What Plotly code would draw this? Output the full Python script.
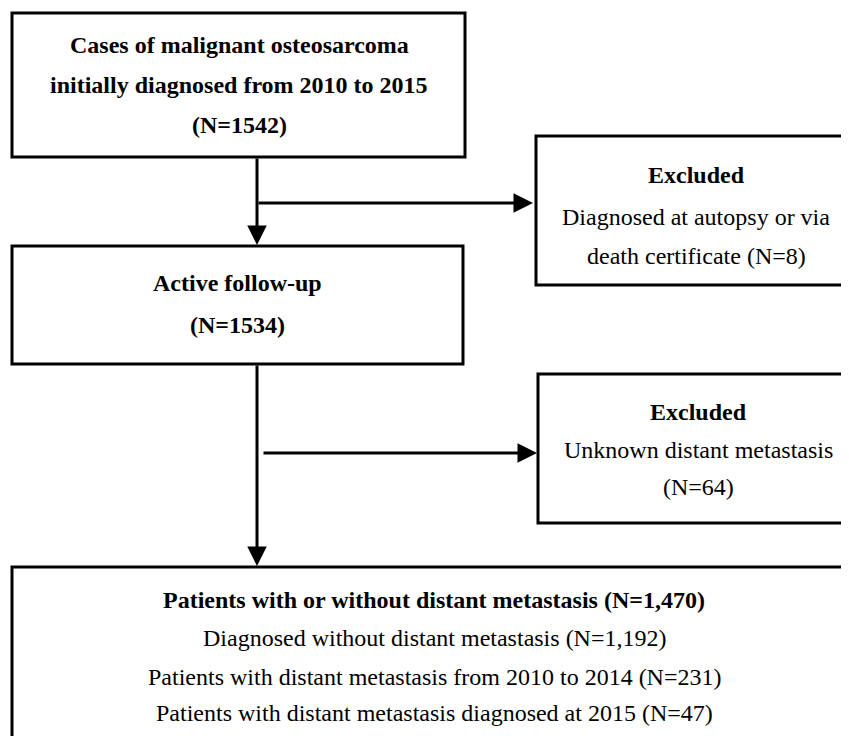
import plotly.graph_objects as go

# Box texts (one entry per line)
box1_lines = ["<b>Cases of malignant osteosarcoma</b>",
              "<b>initially diagnosed from 2010 to 2015</b>",
              "<b>(N=1542)</b>"]
box2_lines = ["<b>Excluded</b>",
              "Diagnosed at autopsy or via",
              "death certificate (N=8)"]
box3_lines = ["<b>Active follow-up</b>",
              "<b>(N=1534)</b>"]
box5_lines = ["<b>Excluded</b>",
              "Unknown distant metastasis",
              "(N=64)"]
box4_lines = ["<b>Patients with or without distant metastasis (N=1,470)</b>",
              "Diagnosed without distant metastasis (N=1,192)",
              "Patients with distant metastasis from 2010 to 2014 (N=231)",
              "Patients with distant metastasis diagnosed at 2015 (N=47)"]

FONT = "Liberation Serif, Times New Roman, Times, serif"

# Layout geometry (pixels, y downward)
boxes = [
    dict(x0=12, y0=13, x1=465, y1=157),
    dict(x0=536, y0=136, x1=870, y1=285),
    dict(x0=12, y0=246, x1=463, y1=364),
    dict(x0=538, y0=374, x1=870, y1=523),
    dict(x0=12, y0=567, x1=870, y1=780),
]
texts = [
    (box1_lines, 239, [45, 85, 125], 24),
    (box2_lines, 696, [175, 217, 256], 24),
    (box3_lines, 237, [283, 325], 24),
    (box5_lines, 698, [412, 450, 487], 24),
    (box4_lines, 434, [600, 638, 677, 713], 24),
]
arrows = [
    ((257, 157), (257, 245)),
    ((257, 364), (257, 566)),
    ((257, 203), (533, 203)),
    ((262, 453), (537, 453)),
]

fig = go.Figure()
fig.add_trace(go.Scatter(x=[8, 841], y=[8, 736], mode="markers",
                         marker=dict(opacity=0), hoverinfo="skip", showlegend=False))

for b in boxes:
    fig.add_shape(type="rect", xref="x", yref="y", line=dict(color="black", width=3),
                  fillcolor="rgba(0,0,0,0)", **b)

for lines, cx, ys, fs in texts:
    for t, y in zip(lines, ys):
        fig.add_annotation(x=cx, y=y, text=t, showarrow=False, xanchor="center", yanchor="middle",
                           font=dict(family=FONT, size=fs, color="black"))

for (tx, ty), (hx, hy) in arrows:
    fig.add_annotation(x=hx, y=hy, ax=tx, ay=ty, xref="x", yref="y", axref="x", ayref="y",
                       text="", showarrow=True, arrowhead=2, arrowsize=1.3, arrowwidth=3,
                       arrowcolor="black", standoff=0)

fig.update_xaxes(range=[8, 841], visible=False, fixedrange=True)
fig.update_yaxes(range=[736, 8], visible=False, fixedrange=True)
fig.update_layout(width=833, height=728, margin=dict(l=0, r=0, t=0, b=0),
                  font=dict(family=FONT),
                  plot_bgcolor="white", paper_bgcolor="white", showlegend=False)

fig.write_html("out.html")
